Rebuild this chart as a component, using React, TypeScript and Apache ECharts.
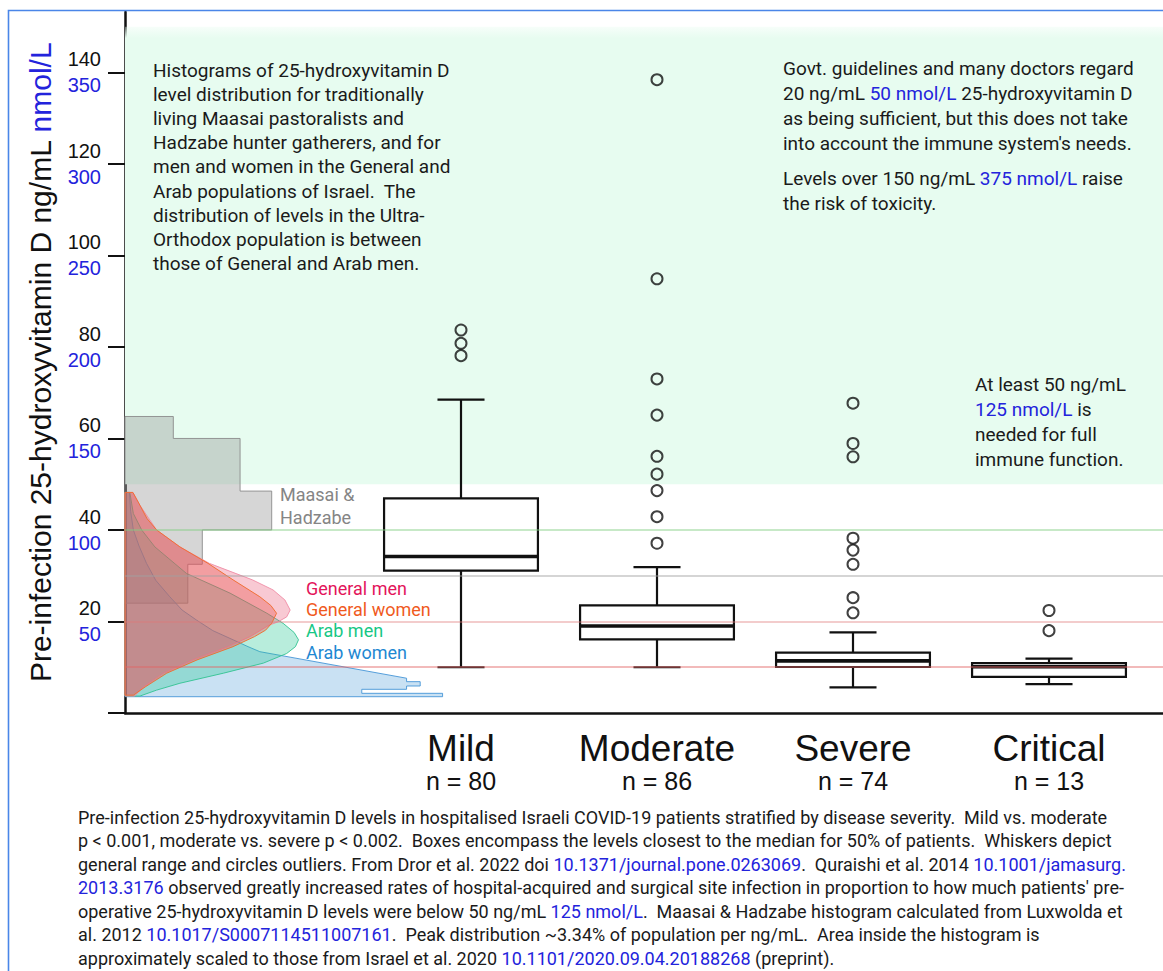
import React, { useEffect, useRef } from 'react';
import * as echarts from 'echarts';

// ---------- data ----------
const categories = ['Mild', 'Moderate', 'Severe', 'Critical'];
const patientCounts = [80, 86, 74, 13];

// [lower whisker, Q1, median, Q3, upper whisker] ng/mL
const mildBox = [10.0, 31.1, 34.2, 46.9, 68.5];
const moderateBox = [10.0, 16.1, 19.0, 23.5, 31.9];
const severeBox = [5.6, 10.05, 11.4, 13.2, 17.6];
const criticalBox = [6.3, 7.9, 10.1, 10.9, 11.9];

const mildOutliers = [78.1, 80.8, 83.7];
const moderateOutliers = [37.1, 42.9, 48.6, 52.2, 56.1, 65.1, 73.0, 94.9, 138.4];
const severeOutliers = [21.9, 25.2, 32.5, 35.6, 38.2, 56.0, 58.9, 67.7];
const criticalOutliers = [18.0, 22.4];

const yTickValues = [0, 20, 40, 60, 80, 100, 120, 140];
const yLabelValues = [20, 40, 60, 80, 100, 120, 140];
const nmolPerNg = 2.5;

const sufficientBand = [50, 150];
const referenceLevels = [40, 30, 20, 10];

// Maasai & Hadzabe histogram: [lower ng/mL, upper ng/mL, % of population per ng/mL]
const maasaiBins = [
  [24, 32.5, 1.43],
  [32.5, 40, 1.76],
  [40, 48.5, 3.34],
  [48.5, 60, 2.62],
  [60, 64.8, 1.1],
];

// Israeli distributions: [ng/mL, % of population per ng/mL]
const generalMen = [
  [48.2, 0.18], [45.4, 0.34], [40, 0.72], [36.3, 1.25], [32.7, 1.92], [29.1, 2.9], [26.9, 3.37],
  [24.7, 3.64], [22.5, 3.76], [21.0, 3.68], [19.9, 3.48], [19.2, 3.28], [16.7, 2.85], [14.5, 2.35],
  [11.6, 1.55], [8.7, 0.88], [5.7, 0.42], [3.7, 0.22],
];
const generalWomen = [
  [48.2, 0.18], [45.4, 0.34], [42.5, 0.5], [40, 0.72], [36.3, 1.25], [32.7, 1.89], [29.1, 2.46],
  [25.4, 3.07], [23.5, 3.32], [21.8, 3.45], [19.6, 3.34], [18.1, 3.2], [16.7, 2.95], [14.5, 2.46],
  [11.6, 1.64], [8.7, 0.95], [5.7, 0.46], [3.9, 0.19],
];
const arabMen = [
  [48.2, 0.11], [43.6, 0.19], [40, 0.38], [36.3, 0.68], [30.5, 1.4], [26.2, 2.39], [21.8, 3.23],
  [19.6, 3.6], [17.6, 3.85], [16.0, 3.95], [14.5, 3.88], [13.0, 3.68], [10.9, 3.15], [8.7, 2.24],
  [6.5, 1.25], [5.0, 0.72], [3.7, 0.34],
];
const arabWomen = [
  [48.2, 0.1], [44, 0.13], [40, 0.19], [36.5, 0.32], [32.7, 0.49], [29, 0.7], [25.4, 1.02],
  [22.5, 1.3], [20.3, 1.63], [18, 2.0], [16, 2.46], [14.5, 2.8], [13.4, 3.07], [7.6, 6.41],
  [6.85, 6.41], [6.85, 6.72], [5.9, 6.72], [5.9, 6.41], [5.18, 6.41], [5.18, 5.39], [4.3, 5.39],
  [4.3, 7.23], [3.56, 7.23],
];

// ---------- text ----------
const leftNote = [
  'Histograms of 25-hydroxyvitamin D',
  'level distribution for traditionally',
  'living Maasai pastoralists and',
  'Hadzabe hunter gatherers, and for',
  'men and women in the General and',
  'Arab populations of Israel.  The',
  'distribution of levels in the Ultra-',
  'Orthodox population is between',
  'those of General and Arab men.',
];
const guidelineNote = [
  'Govt. guidelines and many doctors regard',
  '20 ng/mL {l|50 nmol/L} 25-hydroxyvitamin D',
  'as being sufficient, but this does not take',
  "into account the immune system's needs.",
];
const toxicityNote = ['Levels over 150 ng/mL {l|375 nmol/L} raise', 'the risk of toxicity.'];
const immuneNote = ['At least 50 ng/mL', '{l|125 nmol/L} is', 'needed for full', 'immune function.'];
const caption = [
  'Pre-infection 25-hydroxyvitamin D levels in hospitalised Israeli COVID-19 patients stratified by disease severity.  Mild vs. moderate',
  'p < 0.001, moderate vs. severe p < 0.002.  Boxes encompass the levels closest to the median for 50% of patients.  Whiskers depict',
  'general range and circles outliers. From Dror et al. 2022 doi {l|10.1371/journal.pone.0263069}.  Quraishi et al. 2014 {l|10.1001/jamasurg.}',
  "{l|2013.3176} observed greatly increased rates of hospital-acquired and surgical site infection in proportion to how much patients' pre-",
  'operative 25-hydroxyvitamin D levels were below 50 ng/mL {l|125 nmol/L}.  Maasai & Hadzabe histogram calculated from Luxwolda et',
  'al. 2012 {l|10.1017/S0007114511007161}.  Peak distribution ~3.34% of population per ng/mL.  Area inside the histogram is',
  'approximately scaled to those from Israel et al. 2020 {l|10.1101/2020.09.04.20188268} (preprint).',
];

// ---------- styles ----------
const INK = '#1a1a1a';
const LINK = '#2323dc';
const ARIAL = 'Liberation Sans, Arial, sans-serif';
const ROBOTO = 'Roboto, sans-serif';
const refColors = ['rgba(130,205,130,0.6)', 'rgba(160,160,160,0.6)', 'rgba(225,120,120,0.5)', 'rgba(225,100,100,0.6)'];

function histogramPolygon(bins: number[][]) {
  const pts: number[][] = [[bins[0][0], 0]];
  bins.forEach(([lo, hi, w]) => {
    pts.push([lo, w]);
    pts.push([hi, w]);
  });
  pts.push([bins[bins.length - 1][1], 0]);
  return pts;
}
function curvePolygon(curve: number[][]) {
  return [[curve[0][0], 0], ...curve, [curve[curve.length - 1][0], 0]];
}

const shapes = [
  { points: histogramPolygon(maasaiBins), fill: 'rgba(128,128,128,0.32)', stroke: 'rgba(140,140,140,0.9)' },
  { points: curvePolygon(arabWomen), fill: 'rgba(100,170,222,0.35)', stroke: 'rgba(70,150,215,0.9)' },
  { points: curvePolygon(arabMen), fill: 'rgba(40,200,150,0.33)', stroke: 'rgba(50,195,145,0.9)' },
  { points: curvePolygon(generalMen), fill: 'rgba(235,90,120,0.33)', stroke: 'rgba(240,140,165,0.9)' },
  { points: curvePolygon(generalWomen), fill: 'rgba(230,70,60,0.33)', stroke: 'rgba(240,110,50,0.95)' },
];

const boxes = [mildBox, moderateBox, severeBox, criticalBox];
const outliers = [mildOutliers, moderateOutliers, severeOutliers, criticalOutliers];

function buildOption(): any {
  const grid0 = { left: 125, top: 12, width: 1038, height: 701 };
  const grid1 = { left: 363, top: 12, width: 784, height: 701 };
  const yMax = 153.2;

  return {
    animation: false,
    backgroundColor: '#ffffff',
    grid: [grid0, grid1],
    xAxis: [
      {
        gridIndex: 0,
        type: 'value',
        min: 0,
        max: 23.63,
        axisLine: { show: true, onZero: false, lineStyle: { color: '#111', width: 2.5 } },
        axisTick: { show: false },
        axisLabel: { show: false },
        splitLine: { show: false },
      },
      {
        gridIndex: 1,
        type: 'category',
        data: categories,
        axisLine: { show: false },
        axisTick: { show: false },
        axisLabel: {
          interval: 0,
          margin: 15,
          formatter: (v: string, i: number) => `{a|${v}}\n{b|n = ${patientCounts[i]}}`,
          rich: {
            a: { fontFamily: ARIAL, fontSize: 37, color: '#111', lineHeight: 40 },
            b: { fontFamily: ARIAL, fontSize: 25, color: '#111', lineHeight: 26 },
          },
        },
      },
    ],
    yAxis: [
      {
        gridIndex: 0,
        type: 'value',
        min: 0,
        max: yMax,
        axisLine: { show: true, lineStyle: { color: '#111', width: 2.5 } },
        axisTick: { show: true, length: 17, customValues: yTickValues, lineStyle: { color: '#111', width: 2 } },
        axisLabel: {
          customValues: yLabelValues,
          margin: 24,
          formatter: (v: number) => `{a|${v}}\n{b|${v * nmolPerNg}}`,
          rich: {
            a: { fontFamily: ARIAL, fontSize: 20, color: '#111', lineHeight: 26, align: 'right' },
            b: { fontFamily: ARIAL, fontSize: 20, color: LINK, lineHeight: 26, align: 'right' },
          },
        },
        splitLine: { show: false },
        name: '{a|Pre-infection 25-hydroxyvitamin D ng/mL }{b|nmol/L}',
        nameLocation: 'middle',
        nameRotate: 90,
        nameGap: 70,
        nameTextStyle: {
          rich: {
            a: { fontFamily: ARIAL, fontSize: 30, color: '#111' },
            b: { fontFamily: ARIAL, fontSize: 30, color: LINK },
          },
        },
      },
      { gridIndex: 1, type: 'value', min: 0, max: yMax, show: false },
    ],
    series: [
      {
        type: 'line',
        xAxisIndex: 0,
        yAxisIndex: 0,
        data: [],
        z: 0,
        silent: true,
        markArea: {
          silent: true,
          itemStyle: {
            color: new echarts.graphic.LinearGradient(0, 0, 0, 1, [
              { offset: 0, color: 'rgba(231,252,240,0.35)' },
              { offset: 0.025, color: '#e7fcf0' },
              { offset: 1, color: '#e7fcf0' },
            ]),
          },
          data: [[{ yAxis: sufficientBand[0] }, { yAxis: sufficientBand[1] }]],
        },
      },
      {
        type: 'custom',
        xAxisIndex: 0,
        yAxisIndex: 0,
        z: 1,
        silent: true,
        clip: false,
        data: shapes.map((_, i) => [i, 0]),
        renderItem: (params: any, api: any) => {
          const s = shapes[params.dataIndex];
          return {
            type: 'polygon',
            shape: { points: s.points.map(([v, w]) => api.coord([w, v])) },
            style: { fill: s.fill, stroke: s.stroke, lineWidth: 1 },
          };
        },
      },
      {
        type: 'custom',
        xAxisIndex: 1,
        yAxisIndex: 1,
        z: 3,
        silent: true,
        clip: false,
        data: boxes.map((b, i) => [i, ...b]),
        encode: { x: 0, y: [1, 2, 3, 4, 5] },
        renderItem: (params: any, api: any) => {
          const i = api.value(0);
          const band = api.size([1, 0])[0];
          const bw = band * 0.785;
          const cw = band * 0.24;
          const cx = api.coord([i, api.value(1)])[0];
          const y = [1, 2, 3, 4, 5].map((d) => api.coord([i, api.value(d)])[1]);
          const st = { stroke: '#111', lineWidth: 2.2, fill: 'none' };
          const line = (x1: number, y1: number, x2: number, y2: number, w = 2.2) => ({
            type: 'line',
            shape: { x1, y1, x2, y2 },
            style: { stroke: '#111', lineWidth: w },
          });
          return {
            type: 'group',
            children: [
              { type: 'rect', shape: { x: cx - bw / 2, y: y[3], width: bw, height: y[1] - y[3] }, style: st },
              line(cx - bw / 2, y[2], cx + bw / 2, y[2], 3.6),
              line(cx, y[3], cx, y[4]),
              line(cx, y[1], cx, y[0]),
              line(cx - cw / 2, y[4], cx + cw / 2, y[4]),
              line(cx - cw / 2, y[0], cx + cw / 2, y[0]),
            ],
          };
        },
      },
      {
        type: 'scatter',
        xAxisIndex: 1,
        yAxisIndex: 1,
        z: 3,
        silent: true,
        symbol: 'circle',
        symbolSize: 11,
        itemStyle: { color: 'rgba(0,0,0,0)', borderColor: '#111', borderWidth: 2 },
        data: outliers.flatMap((arr, i) => arr.map((v) => [i, v])),
      },
      {
        type: 'line',
        xAxisIndex: 0,
        yAxisIndex: 0,
        data: [],
        z: 5,
        silent: true,
        markLine: {
          silent: true,
          symbol: ['none', 'none'],
          label: { show: false },
          data: referenceLevels.map((v, i) => ({
            yAxis: v,
            lineStyle: { color: refColors[i], width: 1.5, type: 'solid' },
          })),
        },
      },
    ],
    graphic: [
      {
        type: 'rect',
        silent: true,
        z: 100,
        shape: { x: 8.5, y: 10.5, width: 1300, height: 1100 },
        style: { fill: 'none', stroke: '#4a86e8', lineWidth: 1.6 },
      },
      {
        type: 'text',
        x: 153,
        y: 58,
        z: 50,
        style: { text: leftNote.join('\n'), fontFamily: ROBOTO, fontSize: 19, lineHeight: 24.2, fill: INK, verticalAlign: 'top' },
      },
      {
        type: 'text',
        x: 783,
        y: 56,
        z: 50,
        style: {
          text: guidelineNote.join('\n'),
          fontFamily: ROBOTO,
          fontSize: 19,
          lineHeight: 25,
          fill: INK,
          verticalAlign: 'top',
          rich: { l: { fontFamily: ROBOTO, fontSize: 19, lineHeight: 25, fill: LINK } },
        },
      },
      {
        type: 'text',
        x: 783,
        y: 166,
        z: 50,
        style: {
          text: toxicityNote.join('\n'),
          fontFamily: ROBOTO,
          fontSize: 19,
          lineHeight: 25,
          fill: INK,
          verticalAlign: 'top',
          rich: { l: { fontFamily: ROBOTO, fontSize: 19, lineHeight: 25, fill: LINK } },
        },
      },
      {
        type: 'text',
        x: 975,
        y: 372.6,
        z: 50,
        style: {
          text: immuneNote.join('\n'),
          fontFamily: ROBOTO,
          fontSize: 19,
          lineHeight: 24.8,
          fill: INK,
          verticalAlign: 'top',
          rich: { l: { fontFamily: ROBOTO, fontSize: 19, lineHeight: 24.8, fill: LINK } },
        },
      },
      {
        type: 'text',
        x: 280,
        y: 483.5,
        z: 50,
        style: { text: 'Maasai &\nHadzabe', fontFamily: ROBOTO, fontSize: 18, lineHeight: 22.7, fill: '#858585', verticalAlign: 'top' },
      },
      {
        type: 'text',
        x: 306,
        y: 577.6,
        z: 50,
        style: {
          text: '{m|General men}\n{w|General women}\n{am|Arab men}\n{aw|Arab women}',
          fontFamily: ROBOTO,
          fontSize: 18,
          lineHeight: 21.3,
          verticalAlign: 'top',
          rich: {
            m: { fontFamily: ROBOTO, fontSize: 18, lineHeight: 21.3, fill: '#e3145a' },
            w: { fontFamily: ROBOTO, fontSize: 18, lineHeight: 21.3, fill: '#f05a1e' },
            am: { fontFamily: ROBOTO, fontSize: 18, lineHeight: 21.3, fill: '#17c785' },
            aw: { fontFamily: ROBOTO, fontSize: 18, lineHeight: 21.3, fill: '#1e88d2' },
          },
        },
      },
      {
        type: 'text',
        x: 78,
        y: 805.3,
        z: 50,
        style: {
          text: caption.join('\n'),
          fontFamily: ROBOTO,
          fontSize: 18,
          lineHeight: 23.5,
          fill: INK,
          verticalAlign: 'top',
          rich: { l: { fontFamily: ROBOTO, fontSize: 18, lineHeight: 23.5, fill: LINK } },
        },
      },
    ],
  };
}

export default function App() {
  const ref = useRef<HTMLDivElement>(null);
  useEffect(() => {
    if (!ref.current) return;
    const chart = echarts.init(ref.current, null, { renderer: 'svg' });
    chart.setOption(buildOption());
    return () => chart.dispose();
  }, []);
  return (
    <div
      ref={ref}
      style={{ position: 'absolute', left: 0, top: 0, width: 1163, height: 971, background: '#fff' }}
    />
  );
}
